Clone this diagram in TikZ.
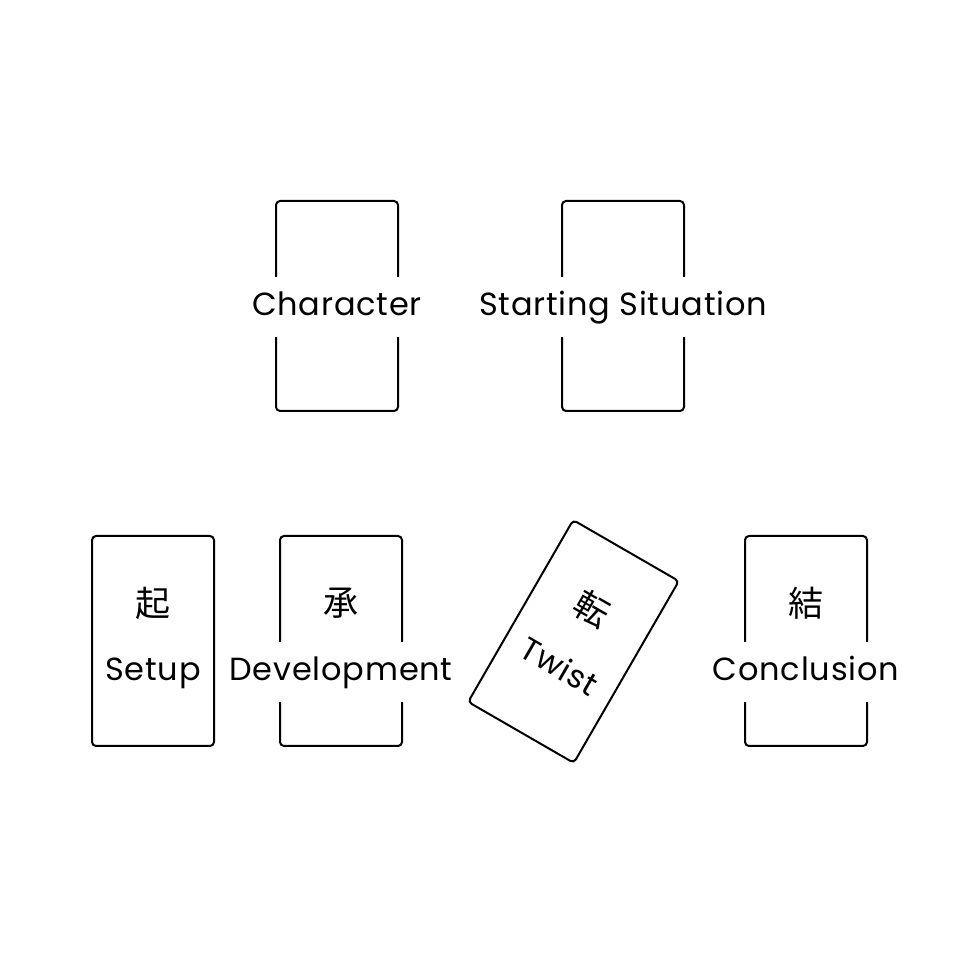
\documentclass[tikz,border=0pt]{standalone}
\usepackage{fontspec}
\setmainfont[LetterSpace=2.5]{Poppins}
\newfontfamily\cjk{Noto Sans CJK JP}
\tikzset{
    card/.style={draw,line width=1pt,rounded corners=2pt,minimum width=61pt,minimum height=105pt,inner sep=0pt},
    plainword/.style={inner xsep=2pt,inner ysep=0pt,text height=0.75em,text depth=0.22em,font=\fontsize{16}{18}\selectfont},
    word/.style={plainword,text height=1.05em,fill=white,minimum height=30pt},
    kanji/.style={inner sep=0pt,font=\cjk\fontsize{17.5}{18}\selectfont}
}

\begin{document}
\begin{tikzpicture}[x=0.5pt,y=0.5pt]
        \useasboundingbox (0,0) rectangle (960,960);
        % top row
        \node[card] (character) at (337,654) {};
        \node[word] (character-t) at (337,653) {Character};
        \node[card] (situation) at (623,654) {};
        \node[word] (situation-t) at (623,653) {Starting Situation};

        % bottom row
        \node[card] (setup) at (153,319) {};
        \node[kanji] (setup-k) at (153,357) {起};
        \node[word] (setup-t) at (153,288) {Setup};

        \node[card] (development) at (341,319) {};
        \node[kanji] (development-k) at (341,357) {承};
        \node[word] (development-t) at (341,288) {Development};

        \begin{scope}[shift={(573.5,318.5)},rotate=-30,transform shape]
            \node[card] (twist) at (0,0) {};
            \node[kanji] (twist-k) at (0,38) {転};
            \node[plainword] (twist-t) at (0,-35) {Twist};
        \end{scope}

        \node[card] (conclusion) at (806,319) {};
        \node[kanji] (conclusion-k) at (806,357) {結};
        \node[word] (conclusion-t) at (806,288) {Conclusion};
    \end{tikzpicture}
\end{document}
